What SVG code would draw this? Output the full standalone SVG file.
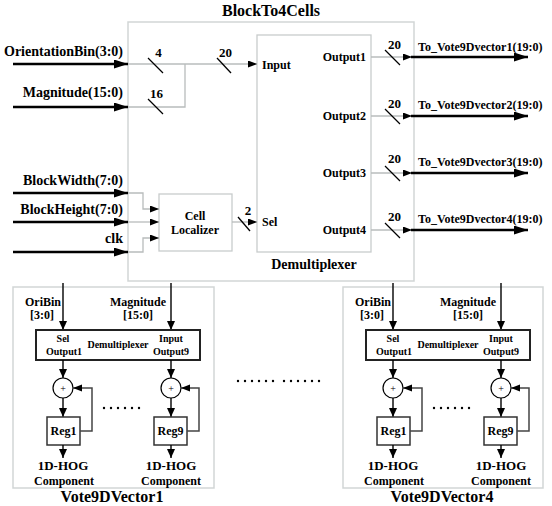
<svg xmlns="http://www.w3.org/2000/svg" width="552" height="506" viewBox="0 0 552 506">
<defs>
<marker id="sm" markerUnits="userSpaceOnUse" markerWidth="10" markerHeight="8" refX="9" refY="3.5" orient="auto"><path d="M0,0 L9,3.5 L0,7 z" fill="#000"/></marker>
<marker id="big" markerUnits="userSpaceOnUse" markerWidth="15" markerHeight="10" refX="14" refY="4.5" orient="auto"><path d="M0,0 L14,4.5 L0,9 z" fill="#000"/></marker>
<marker id="dn" markerUnits="userSpaceOnUse" markerWidth="10" markerHeight="10" refX="9" refY="4" orient="auto"><path d="M0,0 L9,4 L0,8 z" fill="#000"/></marker>
</defs>
<style>
text{font-family:"Liberation Serif","Times New Roman",serif;font-weight:bold;fill:#000}
.t16{font-size:16px}
.t14{font-size:14px}
.t13{font-size:13px}
.t12{font-size:12px}
.t10{font-size:10px}
.mid{text-anchor:middle}
.end{text-anchor:end}
.gbox{fill:#fff;stroke:#d2d6d6;stroke-width:1.5}
.ibox{fill:#fff;stroke:#c8cccc;stroke-width:1.3}
.gl{fill:none;stroke:#b8bcbc;stroke-width:1.3}
.thick{fill:none;stroke:#000;stroke-width:2.6}
.sl{stroke:#000;stroke-width:1.3}
.bl{fill:none;stroke:#000;stroke-width:1.4}
.fb{fill:none;stroke:#444;stroke-width:1.5}
.dm{fill:#fff;stroke:#222;stroke-width:2}
.rg{fill:#fff;stroke:#333;stroke-width:1.5}
.ad{fill:#fff;stroke:#000;stroke-width:1.2}
</style>

<g id="blockto4cells">
<rect class="gbox" x="128" y="22" width="286" height="259"/>
<text class="t16 mid" x="271" y="16">BlockTo4Cells</text>
</g>

<g id="demultiplexer">
<rect class="ibox" x="257" y="35" width="114" height="217"/>
<text class="t12" x="262" y="69">Input</text>
<text class="t12" x="262" y="226">Sel</text>
<text class="t12 end" x="366" y="61">Output1</text>
<text class="t12 end" x="366" y="120">Output2</text>
<text class="t12 end" x="366" y="177">Output3</text>
<text class="t12 end" x="366" y="234">Output4</text>
<text class="t14 mid" x="314" y="269">Demultiplexer</text>
</g>

<g id="cell-localizer">
<rect class="ibox" x="159" y="194" width="73" height="57"/>
<text class="t12 mid" x="195" y="220">Cell</text>
<text class="t12 mid" x="195" y="234">Localizer</text>
</g>

<g id="inputs">
<text class="t14 end" x="123" y="56">OrientationBin(3:0)</text>
<text class="t14 end" x="123" y="97">Magnitude(15:0)</text>
<text class="t14 end" x="123" y="185">BlockWidth(7:0)</text>
<text class="t14 end" x="123" y="214">BlockHeight(7:0)</text>
<text class="t14 end" x="123" y="243">clk</text>
</g>

<g id="outputs">
<text class="t12" x="418" y="51">To_Vote9Dvector1(19:0)</text>
<text class="t12" x="418" y="109">To_Vote9Dvector2(19:0)</text>
<text class="t12" x="418" y="166">To_Vote9Dvector3(19:0)</text>
<text class="t12" x="418" y="223">To_Vote9Dvector4(19:0)</text>
</g>

<g id="connectors">
<path class="thick" d="M13,64 H128" marker-end="url(#big)"/>
<path class="thick" d="M13,107 H128" marker-end="url(#big)"/>
<path class="thick" d="M13,193 H128" marker-end="url(#big)"/>
<path class="thick" d="M13,222 H128" marker-end="url(#big)"/>
<path class="thick" d="M13,252 H128" marker-end="url(#big)"/>
<path class="gl" d="M128,64 H257" marker-end="url(#sm)"/>
<path class="gl" d="M128,107 H185 V64"/>
<path class="gl" d="M128,193 H143 V209 H159" marker-end="url(#sm)"/>
<path class="gl" d="M128,222 H159" marker-end="url(#sm)"/>
<path class="gl" d="M128,252 H143 V238 H159" marker-end="url(#sm)"/>
<path class="gl" d="M232,222 H257" marker-end="url(#sm)"/>
<path class="gl" d="M371,57 H412" marker-end="url(#sm)"/>
<path class="gl" d="M371,116 H412" marker-end="url(#sm)"/>
<path class="gl" d="M371,173 H412" marker-end="url(#sm)"/>
<path class="gl" d="M371,230 H412" marker-end="url(#sm)"/>
<path class="thick" d="M411,57 H528" marker-end="url(#big)"/>
<path class="thick" d="M411,116 H528" marker-end="url(#big)"/>
<path class="thick" d="M411,173 H528" marker-end="url(#big)"/>
<path class="thick" d="M411,230 H528" marker-end="url(#big)"/>
<line class="sl" x1="148" y1="58" x2="163" y2="73"/>
<line class="sl" x1="148" y1="99" x2="163" y2="114"/>
<line class="sl" x1="217" y1="58" x2="231" y2="73"/>
<line class="sl" x1="238" y1="217" x2="250" y2="231"/>
<line class="sl" x1="385" y1="50" x2="400" y2="65"/>
<line class="sl" x1="385" y1="109" x2="400" y2="124"/>
<line class="sl" x1="385" y1="166" x2="400" y2="181"/>
<line class="sl" x1="385" y1="223" x2="400" y2="238"/>
<text class="t13 mid" x="158.5" y="57">4</text>
<text class="t13 mid" x="156.5" y="98">16</text>
<text class="t13 mid" x="225.5" y="57">20</text>
<text class="t13 mid" x="248" y="215">2</text>
<text class="t13 mid" x="394.5" y="49">20</text>
<text class="t13 mid" x="394.5" y="108">20</text>
<text class="t13 mid" x="394.5" y="163">20</text>
<text class="t13 mid" x="394.5" y="221">20</text>
</g>

<g id="vote9dvector1">
<rect class="gbox" x="13" y="287" width="201" height="201"/>
<path class="bl" d="M63,283 V330" marker-end="url(#dn)"/>
<path class="bl" d="M171,283 V330" marker-end="url(#dn)"/>
<text class="t12 mid" x="43" y="306">OriBin</text>
<text class="t12 mid" x="42" y="319">[3:0]</text>
<text class="t12 mid" x="138" y="306">Magnitude</text>
<text class="t12 mid" x="138" y="319">[15:0]</text>
<rect class="dm" x="36" y="330" width="164" height="30"/>
<text class="t10 mid" x="63" y="342">Sel</text>
<text class="t10 mid" x="64" y="355">Output1</text>
<text class="t10 mid" x="118" y="348">Demultiplexer</text>
<text class="t10 mid" x="171" y="342">Input</text>
<text class="t10 mid" x="171" y="355">Output9</text>
<path class="bl" d="M63,360 V378" marker-end="url(#dn)"/>
<path class="bl" d="M171,360 V378" marker-end="url(#dn)"/>
<circle class="ad" cx="63" cy="388" r="10"/>
<circle class="ad" cx="171" cy="388" r="10"/>
<text class="t10 mid" x="63" y="392" style="font-weight:normal">+</text>
<text class="t10 mid" x="171" y="392" style="font-weight:normal">+</text>
<path class="bl" d="M63,398 V417" marker-end="url(#dn)"/>
<path class="bl" d="M171,398 V417" marker-end="url(#dn)"/>
<rect class="rg" x="47" y="417" width="33" height="28"/>
<rect class="rg" x="154" y="417" width="33" height="28"/>
<text class="t12 mid" x="63.5" y="435">Reg1</text>
<text class="t12 mid" x="170.5" y="435">Reg9</text>
<path class="fb" d="M80,431 H92 V388 H73" marker-end="url(#sm)"/>
<path class="fb" d="M187,431 H199 V388 H181" marker-end="url(#sm)"/>
<path class="bl" d="M63,445 V458" marker-end="url(#dn)"/>
<path class="bl" d="M171,445 V458" marker-end="url(#dn)"/>
<text class="t13 mid" x="63" y="470">1D-HOG</text>
<text class="t12 mid" x="64" y="485">Component</text>
<text class="t13 mid" x="171" y="470">1D-HOG</text>
<text class="t12 mid" x="171" y="485">Component</text>
<g fill="#000"><circle cx="104" cy="408" r="1.2"/><circle cx="111" cy="408" r="1.2"/><circle cx="118" cy="408" r="1.2"/><circle cx="125" cy="408" r="1.2"/><circle cx="132" cy="408" r="1.2"/><circle cx="139" cy="408" r="1.2"/></g>
<text class="t16 mid" x="112" y="502">Vote9DVector1</text>
</g>

<g id="vote9dvector4" transform="translate(330,0)">
<rect class="gbox" x="13" y="287" width="200" height="201"/>
<path class="bl" d="M63,283 V330" marker-end="url(#dn)"/>
<path class="bl" d="M171,283 V330" marker-end="url(#dn)"/>
<text class="t12 mid" x="43" y="306">OriBin</text>
<text class="t12 mid" x="42" y="319">[3:0]</text>
<text class="t12 mid" x="138" y="306">Magnitude</text>
<text class="t12 mid" x="138" y="319">[15:0]</text>
<rect class="dm" x="36" y="330" width="164" height="30"/>
<text class="t10 mid" x="63" y="342">Sel</text>
<text class="t10 mid" x="64" y="355">Output1</text>
<text class="t10 mid" x="118" y="348">Demultiplexer</text>
<text class="t10 mid" x="171" y="342">Input</text>
<text class="t10 mid" x="171" y="355">Output9</text>
<path class="bl" d="M63,360 V378" marker-end="url(#dn)"/>
<path class="bl" d="M171,360 V378" marker-end="url(#dn)"/>
<circle class="ad" cx="63" cy="388" r="10"/>
<circle class="ad" cx="171" cy="388" r="10"/>
<text class="t10 mid" x="63" y="392" style="font-weight:normal">+</text>
<text class="t10 mid" x="171" y="392" style="font-weight:normal">+</text>
<path class="bl" d="M63,398 V417" marker-end="url(#dn)"/>
<path class="bl" d="M171,398 V417" marker-end="url(#dn)"/>
<rect class="rg" x="47" y="417" width="33" height="28"/>
<rect class="rg" x="154" y="417" width="33" height="28"/>
<text class="t12 mid" x="63.5" y="435">Reg1</text>
<text class="t12 mid" x="170.5" y="435">Reg9</text>
<path class="fb" d="M80,431 H92 V388 H73" marker-end="url(#sm)"/>
<path class="fb" d="M187,431 H199 V388 H181" marker-end="url(#sm)"/>
<path class="bl" d="M63,445 V458" marker-end="url(#dn)"/>
<path class="bl" d="M171,445 V458" marker-end="url(#dn)"/>
<text class="t13 mid" x="63" y="470">1D-HOG</text>
<text class="t12 mid" x="64" y="485">Component</text>
<text class="t13 mid" x="171" y="470">1D-HOG</text>
<text class="t12 mid" x="171" y="485">Component</text>
<g fill="#000"><circle cx="104" cy="408" r="1.2"/><circle cx="111" cy="408" r="1.2"/><circle cx="118" cy="408" r="1.2"/><circle cx="125" cy="408" r="1.2"/><circle cx="132" cy="408" r="1.2"/><circle cx="139" cy="408" r="1.2"/></g>
<text class="t16 mid" x="112" y="502">Vote9DVector4</text>
</g>

<g id="between-dots" fill="#000">
<circle cx="238" cy="381" r="1.2"/><circle cx="245" cy="381" r="1.2"/><circle cx="252" cy="381" r="1.2"/><circle cx="259" cy="381" r="1.2"/><circle cx="266" cy="381" r="1.2"/><circle cx="273" cy="381" r="1.2"/>
<circle cx="284" cy="381" r="1.2"/><circle cx="291" cy="381" r="1.2"/><circle cx="298" cy="381" r="1.2"/><circle cx="305" cy="381" r="1.2"/><circle cx="312" cy="381" r="1.2"/><circle cx="319" cy="381" r="1.2"/>
</g>
</svg>
